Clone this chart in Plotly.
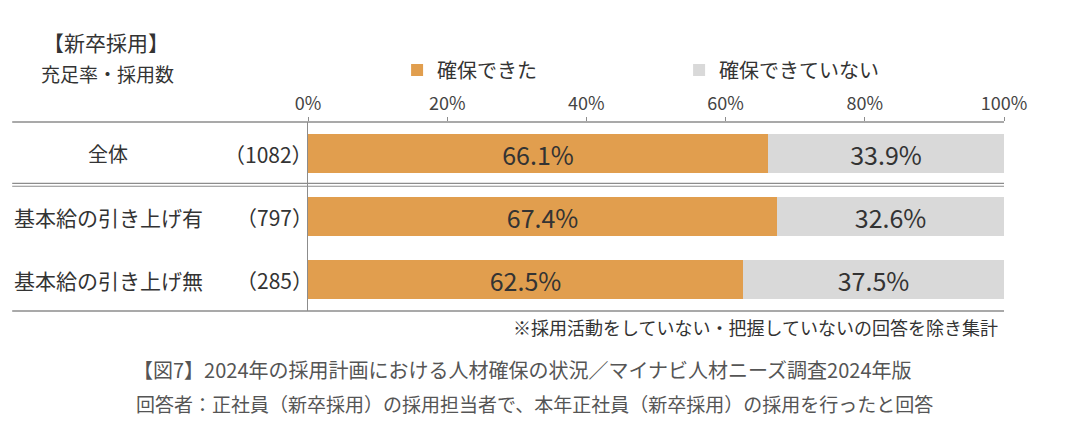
import plotly.graph_objects as go

categories = ["全体", "基本給の引き上げ有", "基本給の引き上げ無"]
counts = ["（1082）", "（797）", "（285）"]
secured = [66.1, 67.4, 62.5]
not_secured = [33.9, 32.6, 37.5]
series_names = ["確保できた", "確保できていない"]
tick_vals = [0, 20, 40, 60, 80, 100]
tick_text = ["0%", "20%", "40%", "60%", "80%", "100%"]

FONT = "Noto Sans CJK JP"
ORANGE = "#E19E4E"
GRAY = "#D9D9D9"
TXT = "#333333"

fig = go.Figure()
fig.add_trace(go.Bar(
    y=categories, x=secured, orientation="h", name=series_names[0],
    marker=dict(color=ORANGE, line=dict(width=0)),
    texttemplate="%{x:.1f}%", textposition="inside", insidetextanchor="middle",
    constraintext="none",
    textfont=dict(family=FONT, size=25, color=TXT), hoverinfo="skip",
))
fig.add_trace(go.Bar(
    y=categories, x=not_secured, orientation="h", name=series_names[1],
    marker=dict(color=GRAY, line=dict(width=0)),
    texttemplate="%{x:.1f}%", textposition="inside", insidetextanchor="middle",
    constraintext="none",
    textfont=dict(family=FONT, size=25, color=TXT), hoverinfo="skip",
))

ann = []
for i, (c, n) in enumerate(zip(categories, counts)):
    if i == 0:
        ann.append(dict(x=-0.287, y=c, xref="paper", yref="y", text=c, showarrow=False,
                        xanchor="center", yanchor="middle", font=dict(family=FONT, size=20, color=TXT)))
    else:
        ann.append(dict(x=-0.426, y=c, xref="paper", yref="y", text=c, showarrow=False,
                        xanchor="left", yanchor="middle", font=dict(family=FONT, size=21, color=TXT)))
    ann.append(dict(x=0, y=c, xref="paper", yref="y", text=n, showarrow=False, xshift=7,
                    xanchor="right", yanchor="middle", font=dict(family=FONT, size=21, color=TXT)))

ann += [
    dict(x=-0.384, y=1.423, xref="paper", yref="paper", text="【新卒採用】", showarrow=False,
         xanchor="left", yanchor="middle", font=dict(family=FONT, size=21, color=TXT)),
    dict(x=-0.387, y=1.254, xref="paper", yref="paper", text="充足率・採用数", showarrow=False,
         xanchor="left", yanchor="middle", font=dict(family=FONT, size=19, color=TXT)),
    dict(x=0.994, y=-0.0847, xref="paper", yref="paper",
         text="※採用活動をしていない・把握していないの回答を除き集計", showarrow=False,
         xanchor="right", yanchor="middle", font=dict(family=FONT, size=18, color=TXT)),
    dict(x=0.3075, y=-0.312, xref="paper", yref="paper",
         text="【図7】2024年の採用計画における人材確保の状況／マイナビ人材ニーズ調査2024年版",
         showarrow=False, xanchor="center", yanchor="middle",
         font=dict(family=FONT, size=20, color="#555555")),
    dict(x=0.326, y=-0.492, xref="paper", yref="paper",
         text="回答者：正社員（新卒採用）の採用担当者で、本年正社員（新卒採用）の採用を行ったと回答",
         showarrow=False, xanchor="center", yanchor="middle",
         font=dict(family=FONT, size=19, color="#555555")),
]

LINE = "#8C8C8C"
shapes = [
    dict(type="line", xref="paper", yref="paper", x0=-0.425, x1=1, y0=1, y1=1,
         line=dict(color=LINE, width=1.5)),
    dict(type="line", xref="paper", yref="paper", x0=-0.425, x1=1, y0=0, y1=0,
         line=dict(color=LINE, width=1.5)),
    dict(type="line", xref="paper", yref="y", x0=-0.425, x1=1, y0=0.475, y1=0.475,
         line=dict(color=LINE, width=1.2)),
    dict(type="line", xref="paper", yref="y", x0=-0.425, x1=1, y0=0.52, y1=0.52,
         line=dict(color=LINE, width=1.2)),
]

# page body has an 8px margin, so the figure is shrunk by 8px and margins compensated
fig.update_layout(
    width=1072, height=430,
    margin=dict(l=300, r=76, t=114, b=127),
    paper_bgcolor="white", plot_bgcolor="white",
    barmode="stack", bargap=0.38,
    showlegend=True,
    legend=dict(orientation="h", x=0.128, y=1.275, xanchor="left", yanchor="middle",
                font=dict(family=FONT, size=20, color=TXT), itemwidth=30,
                entrywidth=237, entrywidthmode="pixels", traceorder="normal",
                bgcolor="rgba(0,0,0,0)"),
    xaxis=dict(range=[0, 100], side="top", tickvals=tick_vals, ticktext=tick_text,
               showgrid=False, zeroline=False, showline=False, ticks="outside", ticklen=4,
               tickcolor=LINE, tickfont=dict(family=FONT, size=18, color="#444444"),
               fixedrange=True),
    yaxis=dict(categoryorder="array", categoryarray=categories, autorange="reversed",
               showticklabels=False, showgrid=False, zeroline=False, showline=True,
               linecolor=LINE, linewidth=1, ticks="", fixedrange=True),
    annotations=ann, shapes=shapes,
    font=dict(family=FONT, color=TXT),
)

fig.write_html("out.html")
